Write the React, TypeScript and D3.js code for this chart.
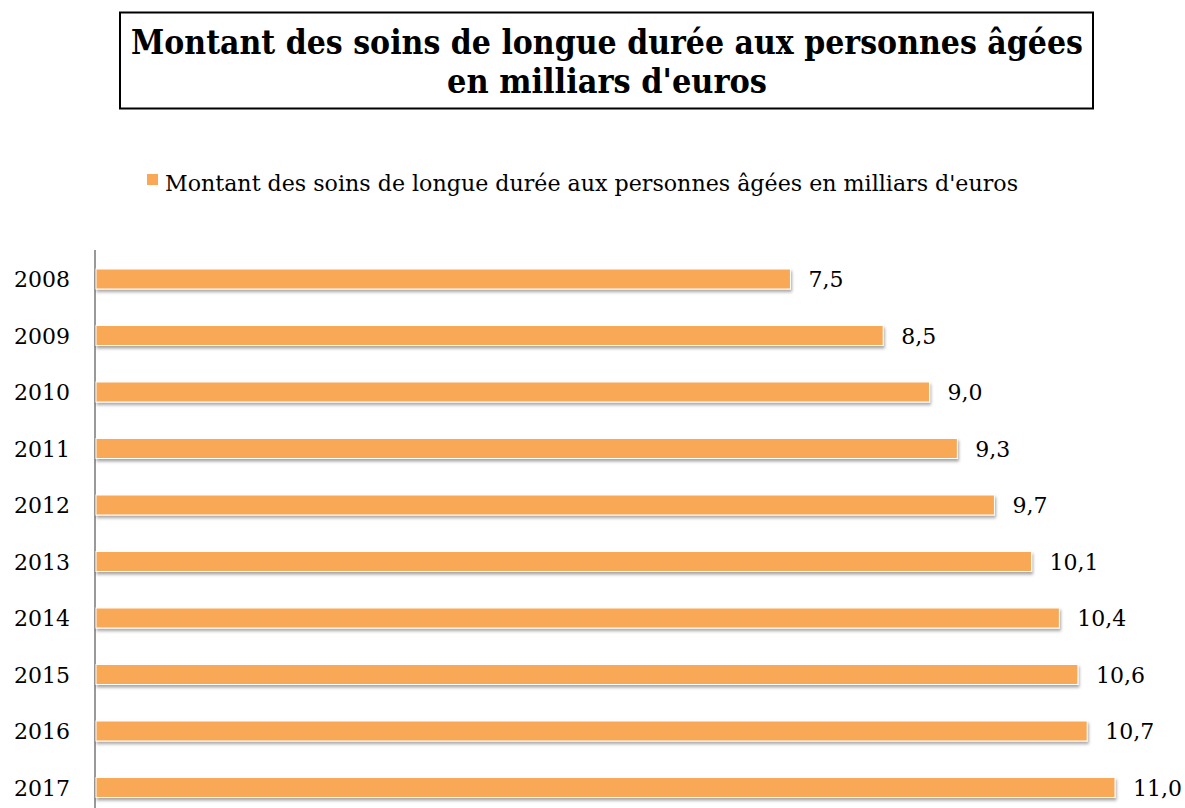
import React from "react";
import * as d3 from "d3";

const years = ["2008", "2009", "2010", "2011", "2012", "2013", "2014", "2015", "2016", "2017"];
const values = [7.5, 8.5, 9.0, 9.3, 9.7, 10.1, 10.4, 10.6, 10.7, 11.0];
const titleLines = ["Montant des soins de longue durée aux personnes âgées", "en milliars d'euros"];
const legendLabel = "Montant des soins de longue durée aux personnes âgées en milliars d'euros";

const W = 1185;
const H = 808;
const FONT = "'DejaVu Serif', 'Liberation Serif', serif";
const BAR = "#F9A857";

export default function App() {
  const x = d3.scaleLinear().domain([0, 11]).range([95, 1115]);
  const y = d3.scaleBand<string>().domain(years).range([250.75, 250.75 + 56.5 * years.length]).padding(0);
  const barH = 20;
  const fmt = (v: number) => d3.format(".1f")(v).replace(".", ",");
  const titleLen = [952, 320];

  return (
    <svg width={W} height={H} style={{ position: "absolute", left: 0, top: 0 }} fontFamily={FONT}>
      <defs>
        <filter id="sh" x="-5%" y="-50%" width="110%" height="250%">
          <feDropShadow dx="1" dy="2.5" stdDeviation="1.5" floodColor="#000" floodOpacity="0.35" />
        </filter>
      </defs>
      <rect x={0} y={0} width={W} height={H} fill="#fff" />
      <rect x={120} y={12.5} width={973} height={96} fill="#fff" stroke="#000" strokeWidth={2} />
      {titleLines.map((t, i) => (
        <text
          key={i}
          x={607}
          y={54 + i * 39}
          textAnchor="middle"
          fontWeight="bold"
          fontSize={33}
          fill="#000"
          textLength={titleLen[i]}
          lengthAdjust="spacingAndGlyphs"
        >
          {t}
        </text>
      ))}
      <rect x={147} y={174} width={11} height={11} fill={BAR} />
      <text x={165} y={191} fontSize={22} fill="#000" textLength={853} lengthAdjust="spacingAndGlyphs">
        {legendLabel}
      </text>
      <line x1={95} x2={95} y1={250} y2={H} stroke="#999" strokeWidth={2} />
      {years.map((yr, i) => {
        const yc = (y(yr) as number) + y.bandwidth() / 2;
        return (
          <g key={yr}>
            <text x={70} y={yc + 8} textAnchor="end" fontSize={22} fill="#000">{yr}</text>
            <rect
              x={x(0) + 1}
              y={yc - barH / 2}
              width={x(values[i]) - x(0) - 1}
              height={barH}
              fill={BAR}
              stroke="#fff"
              strokeWidth={1}
              filter="url(#sh)"
            />
            <text x={x(values[i]) + 18} y={yc + 8} fontSize={22} fill="#000">{fmt(values[i])}</text>
          </g>
        );
      })}
    </svg>
  );
}
